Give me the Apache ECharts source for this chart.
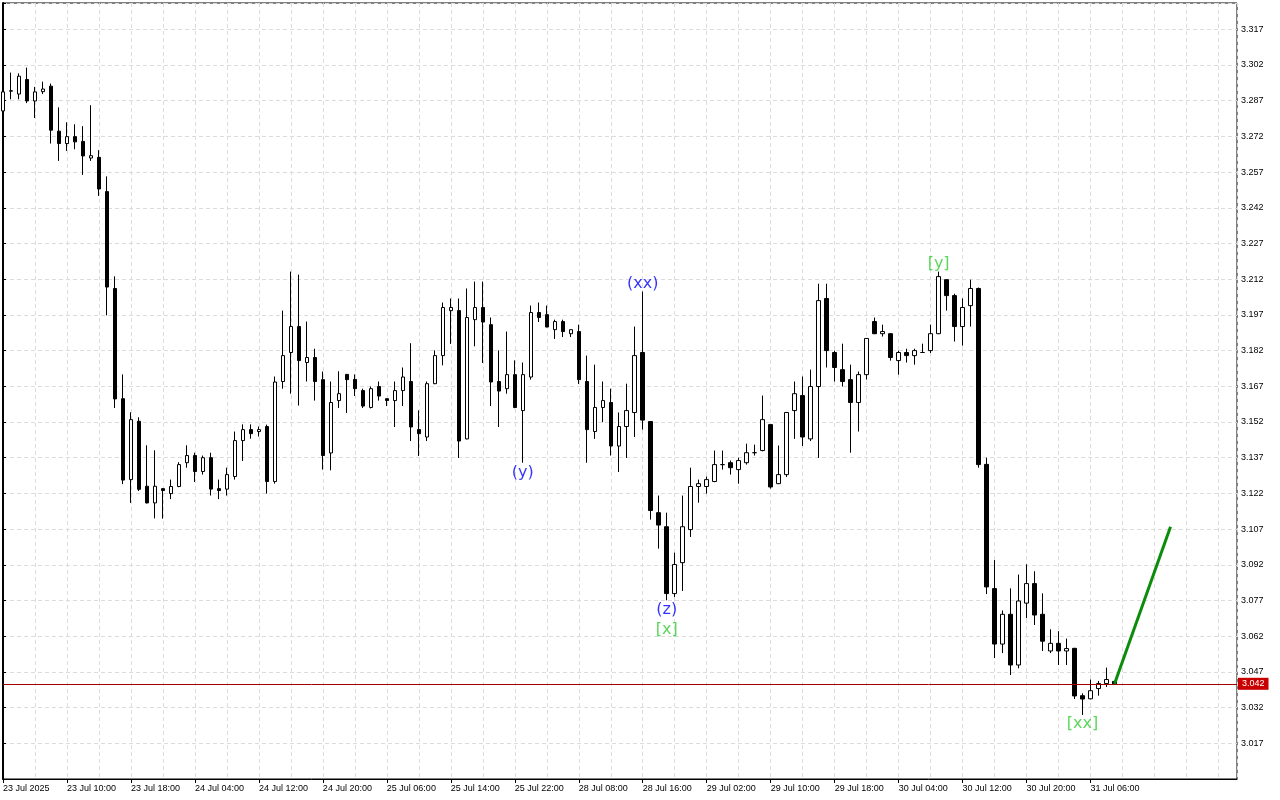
<!DOCTYPE html>
<html><head><meta charset="utf-8">
<script src="https://cdn.jsdelivr.net/npm/echarts@6/dist/echarts.min.js"></script>
<style>html,body{margin:0;padding:0;background:#fff}#c{width:1280px;height:800px}</style>
</head><body><div id="c"></div>
<script>
const opens = [3.2827,3.2910,3.2898,3.2959,3.2869,3.2908,3.2931,3.2742,3.2690,3.2719,
3.2699,3.2629,3.2632,3.2488,3.2081,3.1618,3.1278,3.1523,3.1250,3.1180,
3.1240,3.1219,3.1249,3.1349,3.1379,3.1312,3.1370,3.1240,3.1238,3.1291,
3.1442,3.1488,3.1480,3.1501,3.1270,3.1690,3.1812,3.1921,3.1770,3.1791,
3.1698,3.1390,3.1610,3.1720,3.1699,3.1652,3.1581,3.1669,3.1618,3.1610,
3.1652,3.1690,3.1488,3.1457,3.1681,3.1799,3.1988,3.1988,3.1449,3.1950,
3.2001,3.1929,3.1690,3.1660,3.1719,3.1568,3.1709,3.1980,3.1971,3.1908,
3.1942,3.1891,3.1900,3.1690,3.1480,3.1581,3.1602,3.1419,3.1501,3.1560,
3.1812,3.1522,3.1139,3.1080,3.0799,3.0929,3.1068,3.1249,3.1249,3.1270,
3.1341,3.1349,3.1320,3.1349,3.1391,3.1400,3.1509,3.1261,3.1299,3.1568,
3.1631,3.1449,3.1669,3.2039,3.1812,3.1740,3.1698,3.1602,3.1719,3.1942,
3.1891,3.1891,3.1778,3.1812,3.1799,3.1812,3.1820,3.1891,3.2118,3.2051,
3.1921,3.2009,3.2081,3.1342,3.0820,3.0587,3.0712,3.0499,3.0759,3.0841,
3.0712,3.0558,3.0590,3.0558,3.0569,3.0370,3.0357,3.0400,3.0421,3.0430];
const closes = [3.2907,3.2912,3.2973,3.2869,3.2907,3.2919,3.2746,3.2690,3.2719,3.2697,
3.2638,3.2639,3.2499,3.2087,3.1617,3.1276,3.1530,3.1237,3.1180,3.1250,
3.1232,3.1249,3.1341,3.1379,3.1312,3.1370,3.1238,3.1232,3.1299,3.1442,
3.1488,3.1471,3.1488,3.1270,3.1688,3.1799,3.1921,3.1778,3.1791,3.1690,
3.1379,3.1602,3.1639,3.1698,3.1660,3.1587,3.1660,3.1629,3.1610,3.1652,
3.1709,3.1499,3.1471,3.1681,3.1799,3.2001,3.2001,3.1440,3.1959,3.2001,
3.1940,3.1688,3.1650,3.1719,3.1581,3.1719,3.1980,3.1959,3.1919,3.1942,
3.1900,3.1908,3.1698,3.1488,3.1581,3.1610,3.1419,3.1501,3.1568,3.1799,
3.1528,3.1148,3.1087,3.0799,3.0921,3.1080,3.1249,3.1261,3.1278,3.1341,
3.1341,3.1328,3.1358,3.1391,3.1391,3.1530,3.1247,3.1299,3.1560,3.1639,
3.1457,3.1669,3.2030,3.1820,3.1749,3.1690,3.1602,3.1719,3.1871,3.1891,
3.1900,3.1791,3.1812,3.1799,3.1820,3.1812,3.1891,3.2131,3.2051,3.1921,
3.2001,3.2081,3.1341,3.0827,3.0587,3.0712,3.0499,3.0768,3.0841,3.0709,
3.0599,3.0590,3.0558,3.0568,3.0369,3.0356,3.0391,3.0421,3.0438,3.0420];
const lows = [3.2817,3.2876,3.2876,3.2860,3.2797,3.2898,3.2690,3.2617,3.2659,3.2666,
3.2558,3.2617,3.2470,3.1968,3.1579,3.1259,3.1180,3.1230,3.1178,3.1115,
3.1114,3.1196,3.1246,3.1328,3.1268,3.1299,3.1211,3.1196,3.1211,3.1278,
3.1356,3.1450,3.1459,3.1219,3.1261,3.1660,3.1639,3.1589,3.1690,3.1610,
3.1320,3.1317,3.1579,3.1558,3.1629,3.1579,3.1577,3.1610,3.1587,3.1499,
3.1587,3.1440,3.1377,3.1440,3.1679,3.1758,3.1848,3.1369,3.1447,3.1838,
3.1768,3.1587,3.1499,3.1639,3.1578,3.1349,3.1698,3.1940,3.1918,3.1869,
3.1877,3.1877,3.1680,3.1349,3.1449,3.1519,3.1379,3.1310,3.1369,3.1457,
3.1488,3.1110,3.0988,3.0771,3.0784,3.0810,3.1037,3.1181,3.1219,3.1267,
3.1320,3.1299,3.1261,3.1341,3.1379,3.1397,3.1240,3.1259,3.1289,3.1449,
3.1419,3.1440,3.1369,3.1749,3.1690,3.1669,3.1391,3.1480,3.1698,3.1889,
3.1879,3.1778,3.1719,3.1770,3.1761,3.1811,3.1810,3.1889,3.1988,3.1858,
3.1841,3.1921,3.1328,3.0797,3.0528,3.0549,3.0457,3.0485,3.0696,3.0667,
3.0558,3.0549,3.0499,3.0499,3.0356,3.0289,3.0355,3.0370,3.0407,3.0418];
const highs = [3.2922,3.2988,3.2985,3.3009,3.2928,3.2950,3.2942,3.2842,3.2779,3.2771,
3.2763,3.2851,3.2662,3.2552,3.2132,3.1720,3.1561,3.1540,3.1422,3.1401,
3.1240,3.1278,3.1351,3.1422,3.1391,3.1379,3.1391,3.1278,3.1328,3.1480,
3.1510,3.1510,3.1501,3.1509,3.1711,3.1988,3.2152,3.2139,3.1942,3.1828,
3.1732,3.1690,3.1733,3.1722,3.1720,3.1660,3.1669,3.1690,3.1618,3.1690,
3.1749,3.1851,3.1569,3.1690,3.1821,3.2022,3.2039,3.2039,3.2081,3.2110,
3.2110,3.1959,3.1821,3.1900,3.1779,3.1770,3.2009,3.2022,3.2009,3.1950,
3.1950,3.1908,3.1929,3.1799,3.1761,3.1690,3.1660,3.1560,3.1681,3.1921,
3.2068,3.1522,3.1211,3.1139,3.0971,3.1211,3.1328,3.1278,3.1291,3.1400,
3.1400,3.1358,3.1370,3.1429,3.1425,3.1631,3.1509,3.1421,3.1562,3.1690,
3.1711,3.1740,3.2101,3.2101,3.1820,3.1849,3.1761,3.1732,3.1873,3.1959,
3.1929,3.1893,3.1820,3.1828,3.1828,3.1849,3.1929,3.2152,3.2120,3.2059,
3.2039,3.2118,3.2085,3.1370,3.0940,3.0728,3.0821,3.0879,3.0922,3.0893,
3.0800,3.0649,3.0641,3.0610,3.0571,3.0380,3.0438,3.0432,3.0488,3.0432];

const xTickIdx = [0,8,16,24,32,40,48,56,64,72,80,88,96,104,112,120,128,136];
const xTickLabels = ['23 Jul 2025','23 Jul 10:00','23 Jul 18:00','24 Jul 04:00','24 Jul 12:00','24 Jul 20:00',
'25 Jul 06:00','25 Jul 14:00','25 Jul 22:00','28 Jul 08:00','28 Jul 16:00','29 Jul 02:00',
'29 Jul 10:00','29 Jul 18:00','30 Jul 04:00','30 Jul 12:00','30 Jul 20:00','31 Jul 06:00'];

const lastPrice = 3.042;
const projIdx = [139, 146];
const projPrice = [3.042, 3.108];

const waveTexts = ['(y)','(xx)','(z)','[x]','[y]','[xx]'];
const waveIdx = [65, 80, 83, 83, 117, 135];
const wavePrices = [3.1307, 3.2101, 3.0731, 3.0647, 3.2185, 3.0252];
const waveColors = ['#0000ff','#0000ff','#0000ff','#32cd32','#32cd32','#32cd32'];

const candleData = opens.map((o, i) => [i, o, closes[i], lows[i], highs[i]]);
const gridLine = {show: true, lineStyle: {color: '#dcdcdc', width: 1, type: [4, 3]}};
const xMax = 154.3125;

const chart = echarts.init(document.getElementById('c'), null, {renderer: 'canvas'});
chart.setOption({
  animation: false,
  backgroundColor: '#fff',
  grid: {left: 2.5, top: 3, right: 43, bottom: 21, show: true, borderColor: '#000', borderWidth: 1, backgroundColor: '#fff'},
  xAxis: [
    {type: 'value', min: 0, max: xMax, position: 'bottom',
     axisLine: {show: true, onZero: false, lineStyle: {color: '#000', width: 1}},
     axisTick: {show: true, length: 4, customValues: xTickIdx, lineStyle: {color: '#000'}},
     axisLabel: {show: true, customValues: xTickIdx, align: 'left', margin: 5, fontSize: 9,
       fontFamily: 'Liberation Sans', color: '#000',
       formatter: v => { const k = xTickIdx.indexOf(Math.round(v)); return k >= 0 ? xTickLabels[k] : ''; }},
     splitLine: {show: false}},
    {type: 'value', min: 0, max: xMax, interval: 4, position: 'top',
     axisLine: {show: false}, axisTick: {show: false}, axisLabel: {show: false},
     splitLine: gridLine}
  ],
  yAxis: {type: 'value', position: 'right', min: 3.002, max: 3.32805, interval: 0.015,
    axisLine: {show: true, lineStyle: {color: '#000', width: 2}},
    axisTick: {show: true, length: 3, lineStyle: {color: '#000'}},
    axisLabel: {fontSize: 9, fontFamily: 'Liberation Sans', color: '#000', margin: 4,
      formatter: v => (v > 3.005 && v < 3.32) ? v.toFixed(3) : ''},
    splitLine: gridLine},
  series: [
    {type: 'candlestick', xAxisIndex: 0, data: candleData, encode: {x: 0, y: [1, 2, 3, 4]},
     barWidth: 4,
     itemStyle: {color: '#fff', color0: '#000', borderColor: '#000', borderColor0: '#000',
       borderColorDoji: '#000', borderWidth: 1}},
    {type: 'line', xAxisIndex: 0, data: projIdx.map((x, i) => [x, projPrice[i]]),
     symbol: 'none', lineStyle: {color: '#0b8c0b', width: 3}, z: 5,
     markLine: {silent: true, symbol: 'none', animation: false, precision: 3,
       data: [{yAxis: lastPrice}],
       lineStyle: {color: '#a00000', width: 1, type: 'solid'},
       label: {show: true, position: 'end', distance: 1, formatter: lastPrice.toFixed(3),
         backgroundColor: '#c80000', color: '#fff', fontSize: 9, fontFamily: 'Liberation Sans',
         padding: [2, 4, 1, 4]}}},
    {type: 'scatter', xAxisIndex: 0, symbolSize: 1, itemStyle: {color: 'rgba(0,0,0,0)'}, z: 6,
     data: waveTexts.map((t, i) => ({value: [waveIdx[i], wavePrices[i]],
       label: {color: waveColors[i], formatter: t}})),
     label: {show: true, position: 'inside', fontSize: 16, fontFamily: 'DejaVu Sans'}}
  ]
});
</script></body></html>
